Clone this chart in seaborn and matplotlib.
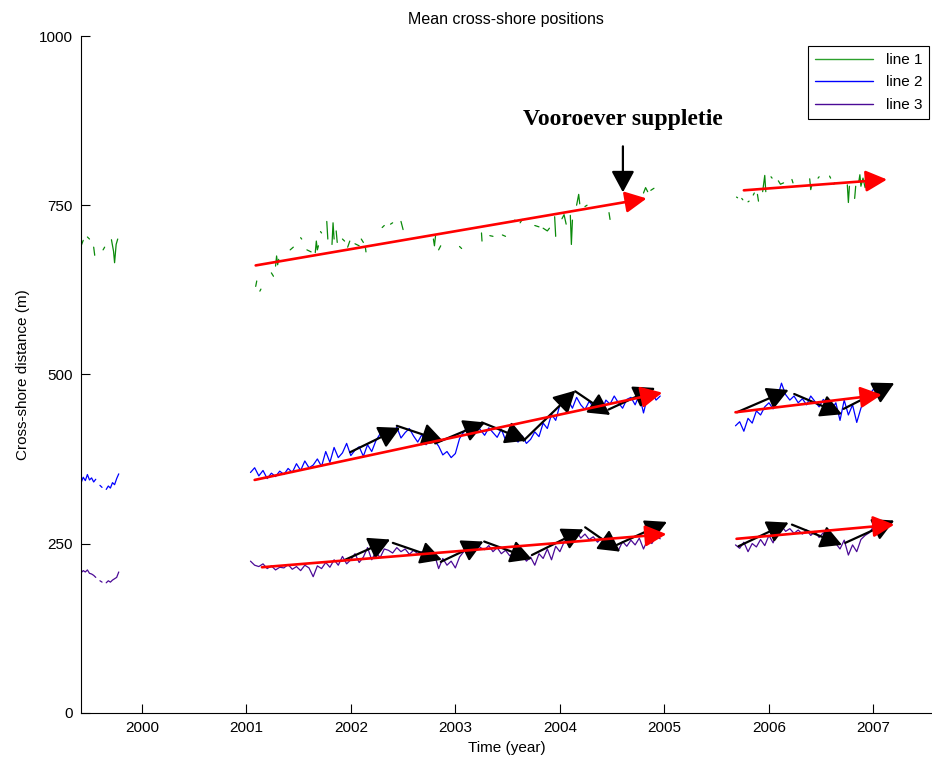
import numpy as np
import pandas as pd
import matplotlib
matplotlib.use("Agg")
import matplotlib.pyplot as plt
import seaborn as sns
from matplotlib.lines import Line2D

# ---- data (time in decimal years, distance in m) ----
nan = np.nan

seg_a = (1999.42, 1999.78)
seg_b = (2001.04, 2004.96)
seg_c = (2005.68, 2007.04)

line2_a = [340, 348, 343, 352, 344, 347, 341, 345, nan, 336, 333, nan,
           330, 335, 332, 340, 337, 346, 353]
line2_b = [355, 362, 350, 358, 346, 354, 349, 357,
           352, 361, 355, 368, 358, 372, 362, 366,
           375, 364, 386, 370, 392, 377, 384, 398, 380,
           388, 393, 379, 396, 386, 402, 412, 405,
           418, 410, 422, 406, 414, 420, 409, 400,
           411, 396, 418, 402, 394, 381, 386, 377, 383,
           405, 415, 423, 412, 426, 418, 410, 421,
           414, 407, 419, 403, 412, 405, 400, 409,
           398, 404, 415, 408, 428, 420, 441, 432, 455,
           470, 462, 450, 466, 455, 448, 460, 452,
           458, 445, 462, 456, 468, 458, 450, 463,
           466, 455, 470, 443, 468, 474, 462, 468]
line2_c = [424, 430, 416, 435, 428, 446, 440, 452,
           458, 449, 465, 487, 470, 462, 468, 458,
           464, 455, 468, 460, 452, 463, 457, 448,
           458, 432, 462, 440, 455, 429, 450, 466,
           470, 478, 472]

line3_a = [207, 210, 208, 211, 206, 205, 203, 200, nan, 195, 193, nan,
           192, 195, 193, 196, 198, 200, 208]
line3_b = [224, 218, 216, 220, 213, 217, 211, 215,
           214, 219, 212, 216, 210, 218, 214, 201,
           217, 213, 222, 215, 226, 218, 231, 220, 226,
           235, 222, 230, 244, 226, 238, 229, 242,
           240, 236, 244, 238, 242, 234, 240, 235,
           238, 231, 226, 234, 213, 228, 218, 224, 214,
           230, 238, 246, 240, 250, 244, 241, 247,
           238, 244, 235, 240, 232, 236, 228, 233,
           224, 230, 218, 235, 228, 242, 226, 246, 238,
           252, 262, 255, 268, 258, 264, 256, 260,
           252, 258, 244, 254, 248, 240, 253, 246,
           255, 248, 258, 242, 256, 250, 261, 257]
line3_c = [248, 243, 252, 238, 250, 245, 256, 247,
           262, 251, 270, 276, 268, 272, 265, 270,
           264, 270, 262, 268, 259, 266, 261, 257,
           250, 242, 255, 233, 248, 238, 256, 262,
           266, 275, 270]

# line 1 is sparse: short fragments separated by gaps
line1_t = [1999.42, 1999.44, nan, 1999.48, 1999.50, nan, 1999.54, 1999.55, nan,
           1999.63, 1999.645, nan, 1999.71, 1999.73, 1999.74, 1999.755, 1999.77, nan,
           2001.09, 2001.10, nan, 2001.13, 2001.14, nan, 2001.24, 2001.26, nan,
           2001.28, 2001.29, 2001.30, 2001.31, nan, 2001.42, 2001.45, nan,
           2001.52, 2001.53, nan, 2001.58, 2001.62, nan,
           2001.66, 2001.67, 2001.68, 2001.69, nan, 2001.71, 2001.72, nan,
           2001.77, 2001.78, nan, 2001.82, 2001.83, 2001.84, nan, 2001.86, 2001.87, nan,
           2001.92, 2001.94, nan, 2001.97, 2001.99, nan, 2002.04, 2002.08, nan,
           2002.10, 2002.12, nan, 2002.14, 2002.145, nan,
           2002.30, 2002.32, nan, 2002.38, 2002.40, nan, 2002.48, 2002.50, nan,
           2002.79, 2002.80, 2002.81, nan, 2002.84, 2002.86, nan, 2003.04, 2003.06, nan,
           2003.25, 2003.255, nan, 2003.33, 2003.36, nan, 2003.45, 2003.48, nan,
           2003.55, 2003.57, nan, 2003.62, 2003.64, nan, 2003.76, 2003.80, nan,
           2003.84, 2003.88, 2003.90, nan, 2003.95, 2003.96, nan,
           2004.02, 2004.04, 2004.06, nan, 2004.10, 2004.11, 2004.12, nan,
           2004.16, 2004.18, 2004.19, nan, 2004.24, 2004.26, nan, 2004.47, 2004.48, nan,
           2004.65, 2004.67, 2004.70, nan, 2004.80, 2004.82, 2004.84, nan,
           2004.87, 2004.90, nan,
           2005.69, 2005.70, nan, 2005.74, 2005.75, nan, 2005.80, 2005.81, nan,
           2005.85, 2005.86, nan, 2005.89, 2005.90, nan, 2005.94, 2005.96, 2005.97, nan,
           2006.02, 2006.03, nan, 2006.09, 2006.11, 2006.14, nan, 2006.22, 2006.23, nan,
           2006.39, 2006.40, 2006.41, nan, 2006.47, 2006.48, nan, 2006.58, 2006.59, nan,
           2006.62, 2006.63, nan, 2006.75, 2006.76, 2006.77, nan, 2006.82, 2006.83, nan,
           2006.86, 2006.87, 2006.88, 2006.90, 2006.92, 2006.94]
line1_v = [690, 698, nan, 703, 700, nan, 688, 676, nan,
           684, 688, nan, 699, 682, 665, 692, 700, nan,
           630, 638, nan, 623, 626, nan, 650, 645, nan,
           660, 675, 662, 670, nan, 684, 688, nan,
           702, 700, nan, 684, 681, nan,
           680, 697, 684, 690, nan, 711, 709, nan,
           726, 700, nan, 692, 724, 700, nan, 712, 695, nan,
           700, 697, nan, 688, 697, nan, 693, 690, nan,
           700, 695, nan, 687, 681, nan,
           717, 720, nan, 722, 724, nan, 726, 714, nan,
           700, 690, 704, nan, 684, 690, nan, 689, 686, nan,
           709, 697, nan, 705, 704, nan, 706, 704, nan,
           726, 728, nan, 724, 729, nan, 720, 718, nan,
           716, 712, 716, nan, 733, 704, nan,
           730, 736, 722, nan, 735, 692, 728, nan,
           750, 766, 752, nan, 748, 750, nan, 739, 729, nan,
           748, 756, 750, nan, 768, 776, 770, nan,
           772, 775, nan,
           762, 761, nan, 760, 758, nan, 755, 756, nan,
           765, 768, nan, 766, 756, nan, 770, 794, 770, nan,
           792, 790, nan, 786, 781, 783, nan, 788, 783, nan,
           789, 773, 780, nan, 790, 792, nan, 793, 790, nan,
           781, 783, nan, 780, 754, 778, nan, 760, 778, nan,
           785, 795, 778, 790, 776, 782]

# red trend arrows (start -> end)
trend_x0 = [2001.09, 2005.76, 2001.08, 2005.68, 2001.15, 2005.69]
trend_y0 = [661, 772, 344, 444, 215, 257]
trend_x1 = [2004.83, 2007.13, 2004.98, 2007.08, 2005.02, 2007.20]
trend_y1 = [760, 788, 473, 470, 264, 278]

# black zigzag arrows, line 2 then line 3
zig_x0 = [2001.994, 2002.440, 2002.807, 2003.254, 2003.652, 2004.147, 2004.465,
          2005.694, 2006.242, 2006.714,
          2001.945, 2002.402, 2002.861, 2003.276, 2003.732, 2004.242, 2004.545,
          2005.709, 2006.220, 2006.730]
zig_y0 = [385, 424, 398, 429, 402, 475, 448, 444, 471, 449,
          226, 251, 223, 253, 233, 274, 248, 246, 278, 251]
zig_x1 = [2002.472, 2002.886, 2003.285, 2003.684, 2004.147, 2004.482, 2004.912,
          2006.188, 2006.699, 2007.199,
          2002.376, 2002.871, 2003.269, 2003.732, 2004.226, 2004.577, 2005.024,
          2006.188, 2006.699, 2007.199]
zig_y1 = [421, 401, 429, 402, 476, 440, 480, 477, 441, 487,
          256, 226, 253, 227, 271, 238, 282, 281, 248, 284]

note_text = "Vooroever suppletie"
note_x, note_y_from, note_y_to = 2004.603, 837, 769

colors = {"line 1": "#0a8a0a", "line 2": "#0000ff", "line 3": "#4b0a96"}
legend_colors = {"line 1": "#2ca02c", "line 2": "#0000ff", "line 3": "#4b0a96"}


def series_frame(t, v, name):
    df = pd.DataFrame({"t": t, "v": v})
    df["seg"] = df["v"].isna().cumsum()
    df = df.dropna()
    df["line"] = name
    return df


def segmented(parts):
    t, v = [], []
    for (t0, t1), vals in parts:
        t.extend(np.linspace(t0, t1, len(vals)))
        v.extend(vals)
        t.append(nan)
        v.append(nan)
    return t, v


t2, v2 = segmented([(seg_a, line2_a), (seg_b, line2_b), (seg_c, line2_c)])
t3, v3 = segmented([(seg_a, line3_a), (seg_b, line3_b), (seg_c, line3_c)])

frames = [series_frame(line1_t, line1_v, "line 1"),
          series_frame(t2, v2, "line 2"),
          series_frame(t3, v3, "line 3")]

sns.set_style("white")
plt.rcParams["font.family"] = ["Liberation Sans", "DejaVu Sans"]
plt.rcParams["text.color"] = "black"
plt.rcParams["axes.labelcolor"] = "black"

fig = plt.figure(figsize=(9.32, 7.6), dpi=100)
ax = fig.add_axes([0.0866, 0.0622, 0.9134, 0.8904])

for df in frames:
    sns.lineplot(data=df, x="t", y="v", units="seg", estimator=None, sort=False,
                 color=colors[df["line"].iloc[0]], lw=0.9, ax=ax, legend=False)

red_style = dict(arrowstyle="-|>,head_length=1.3,head_width=0.65", mutation_scale=10,
                 color="#ff0000", lw=1.9, shrinkA=0, shrinkB=0)
black_style = dict(arrowstyle="-|>,head_length=1.3,head_width=0.7", mutation_scale=10,
                   color="black", lw=1.6, shrinkA=0, shrinkB=0)

for x0, y0, x1, y1 in zip(zig_x0, zig_y0, zig_x1, zig_y1):
    ax.annotate("", xy=(x1, y1), xytext=(x0, y0), arrowprops=black_style)
for x0, y0, x1, y1 in zip(trend_x0, trend_y0, trend_x1, trend_y1):
    ax.annotate("", xy=(x1, y1), xytext=(x0, y0), arrowprops=red_style)

ax.annotate("", xy=(note_x, note_y_to), xytext=(note_x, note_y_from), arrowprops=black_style)
ax.text(note_x, 869, note_text, ha="center", va="baseline", fontsize=17,
        fontweight="bold", color="black", family=["Liberation Serif", "DejaVu Serif"])

ax.set_xlim(1999.416, 2007.56)
ax.set_ylim(0, 1000)
ax.set_xticks(range(2000, 2008))
ax.set_xticklabels([str(y) for y in range(2000, 2008)])
ax.set_yticks([0, 250, 500, 750, 1000])

ax.spines[["top", "right"]].set_visible(False)
for s in ["left", "bottom"]:
    ax.spines[s].set_color("black")
    ax.spines[s].set_linewidth(0.8)
ax.tick_params(direction="in", length=6.5, width=0.8, colors="black",
               labelsize=11, pad=6, bottom=True, left=True)

ax.set_xlabel("Time (year)", fontsize=11, labelpad=4)
ax.set_ylabel("Cross-shore distance (m)", fontsize=11, labelpad=6)
ax.set_title("Mean cross-shore positions", fontsize=11.5, pad=9, color="black")

handles = [Line2D([], [], color=c, lw=1) for c in legend_colors.values()]
leg = ax.legend(handles, list(legend_colors.keys()), loc="upper right",
                bbox_to_anchor=(0.9965, 0.985), borderaxespad=0, fontsize=11,
                handlelength=3.8, labelspacing=0.55, borderpad=0.45,
                fancybox=False, framealpha=1)
leg.get_frame().set_edgecolor("black")
leg.get_frame().set_linewidth(0.8)
for txt in leg.get_texts():
    txt.set_color("black")

fig.savefig("out.png", dpi=100)
